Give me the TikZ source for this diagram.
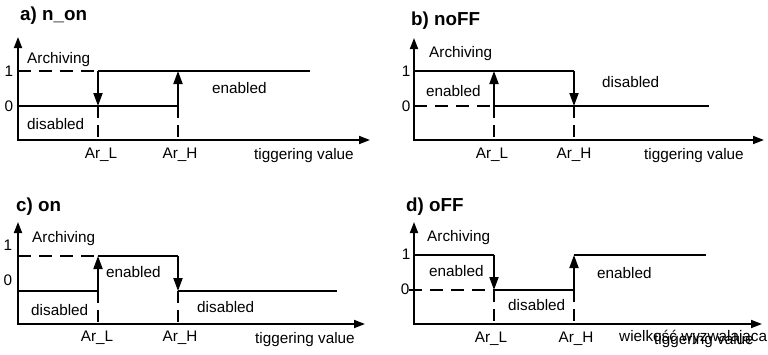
\documentclass[tikz,border=0pt]{standalone}
\usepackage{fontspec}
\setmainfont{Liberation Sans}
\usetikzlibrary{arrows.meta}
\begin{document}
\begin{tikzpicture}[x=1pt,y=-1pt,
  lbl/.style={anchor=base west,inner sep=0pt,font=\fontsize{15.3pt}{18pt}\selectfont},
  clbl/.style={anchor=base,inner sep=0pt,font=\fontsize{15.3pt}{18pt}\selectfont},
  ttl/.style={anchor=base west,inner sep=0pt,font=\fontsize{18.8pt}{22pt}\selectfont\bfseries},
  axis/.style={line width=1.8pt,{Triangle[length=11pt,width=8pt]}-{Triangle[length=11pt,width=8pt]}},
  lvl/.style={line width=1.9pt},
  dsh/.style={line width=1.9pt,dash pattern=on 13pt off 8pt},
  vdsh/.style={line width=1.9pt,dash pattern=on 12pt off 7pt},
  trans/.style={line width=1.9pt,-{Triangle[length=13pt,width=9pt]}}]
\useasboundingbox (0,0) rectangle (768,354);

% ---------- panel a ----------
\coordinate (aO) at (18,140);
\coordinate (aY) at (18,37);
\coordinate (aX) at (370,140);
\coordinate (aS1) at (18,71);
\coordinate (aS0) at (18,106);
\coordinate (aLh) at (98,71);
\coordinate (aLl) at (98,106);
\coordinate (aLb) at (98,140);
\coordinate (aHh) at (178,71);
\coordinate (aHl) at (178,106);
\coordinate (aHb) at (178,140);
\coordinate (aE1) at (310,71);
\draw[axis] (aY) -- (aO) -- (aX);
\draw[dsh] (aS1) -- (aLh);
\draw[lvl] (aLh) -- (aE1);
\draw[lvl] (aS0) -- (aHl);
\draw[trans] (aLh) -- (aLl);
\draw[trans] (aHl) -- (aHh);
\draw[vdsh] (aLl) -- (aLb);
\draw[vdsh] (aHl) -- (aHb);
\node[ttl] (aT) at (20,20) {a) n\_on};
\node[lbl] (aA) at (27,63) {Archiving};
\node[clbl] (a1) at (9,76) {1};
\node[clbl] (a0) at (9,111) {0};
\node[lbl] (aE) at (212,93) {enabled};
\node[lbl] (aD) at (27,129) {disabled};
\node[clbl] (aArL) at (101,158) {Ar\_L};
\node[clbl] (aArH) at (180,158) {Ar\_H};
\node[lbl] (aTV) at (254,159) {tiggering value};

% ---------- panel b ----------
\coordinate (bO) at (414,140);
\coordinate (bY) at (414,38);
\coordinate (bX) at (764,140);
\coordinate (bS1) at (414,71);
\coordinate (bS0) at (414,106);
\coordinate (bLh) at (494,71);
\coordinate (bLl) at (494,106);
\coordinate (bLb) at (494,140);
\coordinate (bHh) at (574,71);
\coordinate (bHl) at (574,106);
\coordinate (bHb) at (574,140);
\coordinate (bE0) at (709,106);
\draw[axis] (bY) -- (bO) -- (bX);
\draw[lvl] (bS1) -- (bHh);
\draw[dsh] (bS0) -- (bLl);
\draw[lvl] (bLl) -- (bE0);
\draw[trans] (bLl) -- (bLh);
\draw[trans] (bHh) -- (bHl);
\draw[vdsh] (bLl) -- (bLb);
\draw[vdsh] (bHl) -- (bHb);
\node[ttl] (bT) at (411,25) {b) noFF};
\node[lbl] (bA) at (429,57) {Archiving};
\node[clbl] (b1) at (406,76) {1};
\node[clbl] (b0) at (406,111) {0};
\node[lbl] (bE) at (426,96) {enabled};
\node[lbl] (bD) at (602,87) {disabled};
\node[clbl] (bArL) at (492,158) {Ar\_L};
\node[clbl] (bArH) at (574,158) {Ar\_H};
\node[lbl] (bTV) at (644,159) {tiggering value};

% ---------- panel c ----------
\coordinate (cO) at (18,324);
\coordinate (cY) at (18,222);
\coordinate (cX) at (365,324);
\coordinate (cS1) at (18,256);
\coordinate (cS0) at (18,291);
\coordinate (cLh) at (98,256);
\coordinate (cLl) at (98,291);
\coordinate (cLb) at (98,324);
\coordinate (cHh) at (178,256);
\coordinate (cHl) at (178,291);
\coordinate (cHb) at (178,324);
\coordinate (cE0) at (337,291);
\draw[axis] (cY) -- (cO) -- (cX);
\draw[dsh] (cS1) -- (cLh);
\draw[lvl] (cLh) -- (cHh);
\draw[lvl] (cS0) -- (cLl);
\draw[lvl] (cHl) -- (cE0);
\draw[trans] (cLl) -- (cLh);
\draw[trans] (cHh) -- (cHl);
\draw[vdsh] (cLl) -- (cLb);
\draw[vdsh] (cHl) -- (cHb);
\node[ttl] (cT) at (16,211) {c) on};
\node[lbl] (cA) at (32,242) {Archiving};
\node[clbl] (c1) at (8,250) {1};
\node[clbl] (c0) at (8,285) {0};
\node[lbl] (cE) at (106,277) {enabled};
\node[lbl] (cD1) at (31,315) {disabled};
\node[lbl] (cD2) at (197,312) {disabled};
\node[clbl] (cArL) at (97,341) {Ar\_L};
\node[clbl] (cArH) at (180,341) {Ar\_H};
\node[lbl] (cTV) at (255,343) {tiggering value};

% ---------- panel d ----------
\coordinate (dO) at (414,324);
\coordinate (dY) at (414,222);
\coordinate (dX) at (762,324);
\coordinate (dS1) at (414,255);
\coordinate (dS0) at (409,290);
\coordinate (dLh) at (494,255);
\coordinate (dLl) at (494,290);
\coordinate (dLb) at (494,324);
\coordinate (dHh) at (574,255);
\coordinate (dHl) at (574,290);
\coordinate (dHb) at (574,324);
\coordinate (dE1) at (706,255);
\draw[axis] (dY) -- (dO) -- (dX);
\draw[lvl] (dS1) -- (dLh);
\draw[dsh] (dS0) -- (dLl);
\draw[lvl] (dLl) -- (dHl);
\draw[lvl] (dHh) -- (dE1);
\draw[trans] (dLh) -- (dLl);
\draw[trans] (dHl) -- (dHh);
\draw[vdsh] (dLl) -- (dLb);
\draw[vdsh] (dHl) -- (dHb);
\node[ttl] (dT) at (406,211) {d) oFF};
\node[lbl] (dA) at (427,241) {Archiving};
\node[clbl] (d1) at (406,259) {1};
\node[clbl] (d0) at (405,294) {0};
\node[lbl] (dE1l) at (429,276) {enabled};
\node[lbl] (dD) at (508,310) {disabled};
\node[lbl] (dE2) at (597,278) {enabled};
\node[clbl] (dArL) at (491,342) {Ar\_L};
\node[clbl] (dArH) at (576,342) {Ar\_H};
\node[lbl] (dW) at (619,341) {wielkość wyzwalająca};
\node[lbl] (dTV) at (654,344) {tiggering value};
\end{tikzpicture}
\end{document}
